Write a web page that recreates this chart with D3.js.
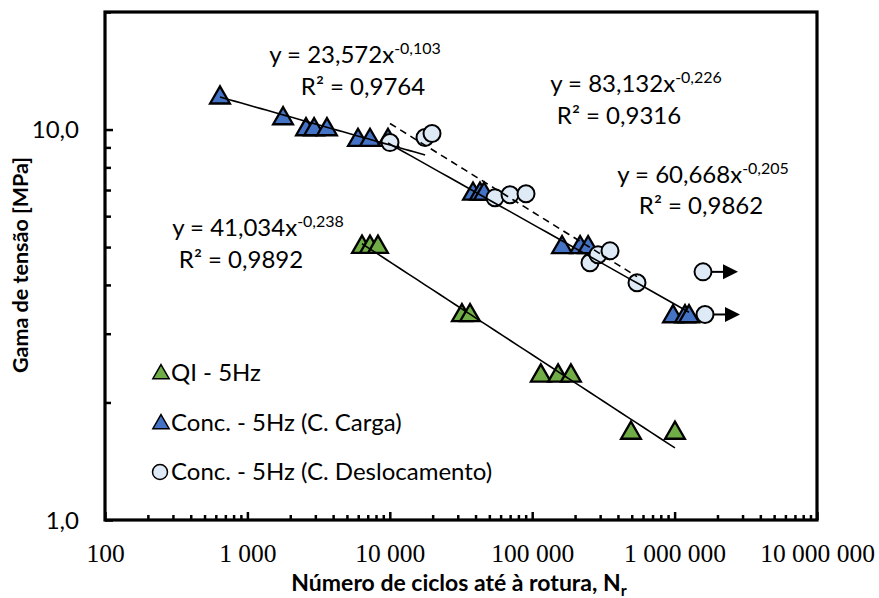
<!DOCTYPE html>
<html><head><meta charset="utf-8">
<script src="https://cdn.jsdelivr.net/npm/d3@7"></script>
<style>
html,body{margin:0;padding:0;background:#fff;}
svg{display:block;}
</style></head>
<body>
<svg id="chart" width="879" height="598"></svg>
<script>
// ---- Data ----
const qiN = [6380, 7260, 8260, 32100, 36600, 115000, 152000, 187000, 494000, 1006000];
const qiS = [5.0, 5.0, 5.0, 3.34, 3.34, 2.34, 2.34, 2.34, 1.67, 1.67];

const cargaN = [642, 1780, 2580, 2940, 3620, 5980, 7260, 9710, 38400, 43000, 45900, 162000, 217000, 247000, 975000, 1183000, 1262000];
const cargaS = [12.06, 10.67, 10.0, 10.0, 10.0, 9.39, 9.39, 9.39, 6.84, 6.84, 6.84, 4.99, 4.99, 4.99, 3.32, 3.32, 3.32];

const deslocN = [10030, 17670, 19790, 54800, 69850, 90480, 254600, 289900, 351900, 544500, 1583000, 1635000];
const deslocS = [9.26, 9.54, 9.77, 6.69, 6.81, 6.85, 4.56, 4.78, 4.89, 4.05, 4.32, 3.36];
const deslocRunout = [false, false, false, false, false, false, false, false, false, false, true, true];

// trendlines: coefficient, exponent, N range
const trendA = [23.572, 83.132, 60.668, 41.034];
const trendB = [-0.103, -0.226, -0.205, -0.238];
const trendFrom = [642, 10030, 9710, 6380];
const trendTo = [17700, 544500, 1262000, 1006000];
const trendDashed = [false, true, false, false];
const trendEq = ["y = 23,572x", "y = 83,132x", "y = 60,668x", "y = 41,034x"];
const trendExp = ["-0,103", "-0,226", "-0,205", "-0,238"];
const trendR2 = ["R² = 0,9764", "R² = 0,9316", "R² = 0,9862", "R² = 0,9892"];

const xTickValues = [100, 1000, 10000, 100000, 1000000, 10000000];
const xTickLabels = ["100", "1 000", "10 000", "100 000", "1 000 000", "10 000 000"];
const yTickValues = [1, 10];
const yTickLabels = ["1,0", "10,0"];

const legendLabels = ["QI - 5Hz", "Conc. - 5Hz (C. Carga)", "Conc. - 5Hz (C. Deslocamento)"];

// ---- Layout ----
const L = 105, R = 817, T = 12, B = 520;
const svg = d3.select("#chart");
const x = d3.scaleLog().domain([100, 1e7]).range([L, R]);
const y = d3.scaleLog().domain([1, 20]).range([B, T]);

const SANS = "Lato, 'Open Sans', sans-serif";
const SERIF = "'Liberation Serif', 'Times New Roman', serif";
const GREEN = "#70AD47", BLUE = "#4472C4", LIGHT = "#DEEBF7";

// minor ticks
const xMinor = [];
for (let e = 2; e < 7; e++) for (let k = 2; k <= 9; k++) xMinor.push(k * Math.pow(10, e));
const yMinor = [2,3,4,5,6,7,8,9,20];

const gxMinor = svg.append("g").attr("transform", `translate(0,${B})`)
  .call(d3.axisBottom(x).tickValues(xMinor).tickSize(-5).tickFormat(""));
const gx = svg.append("g").attr("transform", `translate(0,${B})`)
  .call(d3.axisBottom(x).tickValues(xTickValues).tickSize(-8).tickFormat((d,i)=>xTickLabels[i]));
const gyMinor = svg.append("g").attr("transform", `translate(${L},0)`)
  .call(d3.axisLeft(y).tickValues(yMinor).tickSize(-6).tickFormat(""));
const gy = svg.append("g").attr("transform", `translate(${L},0)`)
  .call(d3.axisLeft(y).tickValues(yTickValues).tickSize(-8).tickPadding(26).tickFormat((d,i)=>yTickLabels[i]));

[gxMinor, gx, gyMinor, gy].forEach(g => {
  g.select(".domain").remove();
  g.selectAll(".tick line").attr("stroke", "#000").attr("stroke-width", 2.5);
});
gx.selectAll(".tick text").attr("y", 42).attr("dy", null)
  .style("font-family", SERIF).style("font-size", "25.5px").attr("fill", "#000");
gy.selectAll(".tick text").attr("dy", "0.34em")
  .style("font-family", SANS).style("font-size", "24px").attr("fill", "#000");

// frame
svg.append("rect").attr("x", L).attr("y", T).attr("width", R - L).attr("height", B - T)
  .attr("fill", "none").attr("stroke", "#000").attr("stroke-width", 3.2);

// axis titles
svg.append("text").attr("transform", `translate(28,265) rotate(-90)`)
  .attr("text-anchor", "middle").style("font-family", SANS).style("font-weight", "bold")
  .style("font-size", "21.5px").text("Gama de tensão [MPa]");
const xt = svg.append("text").attr("x", 459).attr("y", 591).attr("text-anchor", "middle")
  .style("font-family", SANS).style("font-weight", "bold").style("font-size", "23px");
xt.append("tspan").text("Número de ciclos até à rotura, N");
xt.append("tspan").attr("dy", 5).style("font-size", "16px").text("r");

// markers
const tri = d3.symbol().type(d3.symbolTriangle).size(170);
const plot = svg.append("g");

plot.selectAll("path.qi").data(qiN).join("path").attr("class", "qi")
  .attr("transform", (d,i)=>`translate(${x(d)},${y(qiS[i])})`)
  .attr("d", tri).attr("fill", GREEN).attr("stroke", "#000").attr("stroke-width", 2.3).attr("stroke-linejoin", "miter");

plot.selectAll("path.carga").data(cargaN).join("path").attr("class", "carga")
  .attr("transform", (d,i)=>`translate(${x(d)},${y(cargaS[i])})`)
  .attr("d", tri).attr("fill", BLUE).attr("stroke", "#000").attr("stroke-width", 2.3).attr("stroke-linejoin", "miter");

// run-out arrows
deslocN.forEach((d,i)=>{
  if (!deslocRunout[i]) return;
  const cx = x(d), cy = y(deslocS[i]);
  plot.append("line").attr("x1", cx).attr("x2", cx + 22).attr("y1", cy).attr("y2", cy)
    .attr("stroke", "#000").attr("stroke-width", 2);
  plot.append("path").attr("d", `M${cx+20},${cy-7.5}L${cx+35},${cy}L${cx+20},${cy+7.5}Z`).attr("fill", "#000");
});

plot.selectAll("circle.desloc").data(deslocN).join("circle").attr("class", "desloc")
  .attr("cx", d=>x(d)).attr("cy", (d,i)=>y(deslocS[i])).attr("r", 8.5)
  .attr("fill", LIGHT).attr("stroke", "#000").attr("stroke-width", 2);

// trendlines
trendA.forEach((a,i)=>{
  const pts = d3.range(0, 41).map(k => {
    const lx = Math.log10(trendFrom[i]) + (Math.log10(trendTo[i]) - Math.log10(trendFrom[i])) * k / 40;
    const n = Math.pow(10, lx);
    return [x(n), y(a * Math.pow(n, trendB[i]))];
  });
  plot.append("path").attr("d", d3.line()(pts)).attr("fill", "none").attr("stroke", "#000")
    .attr("stroke-width", 1.6).attr("stroke-dasharray", trendDashed[i] ? "7,5" : null);
});

// trendline labels
const eqPos = [[355, 63], [636, 92], [703, 183], [258, 236]];
const r2Pos = [[363, 95], [619, 124], [701, 214], [241, 268]];
trendEq.forEach((t,i)=>{
  const tx = svg.append("text").attr("x", eqPos[i][0]).attr("y", eqPos[i][1]).attr("text-anchor", "middle")
    .style("font-family", SANS).style("font-size", "24px");
  tx.append("tspan").text(t);
  tx.append("tspan").attr("dy", -9).style("font-size", "16px").text(trendExp[i]);
  svg.append("text").attr("x", r2Pos[i][0]).attr("y", r2Pos[i][1]).attr("text-anchor", "middle")
    .style("font-family", SANS).style("font-size", "24px").text(trendR2[i]);
});

// legend
const legY = [373, 423, 472];
const lg = svg.append("g");
const triL = d3.symbol().type(d3.symbolTriangle).size(115);
lg.append("path").attr("transform", `translate(161,${legY[0]+1})`).attr("d", triL)
  .attr("fill", GREEN).attr("stroke", "#000").attr("stroke-width", 1.5);
lg.append("path").attr("transform", `translate(161,${legY[1]+1})`).attr("d", triL)
  .attr("fill", BLUE).attr("stroke", "#000").attr("stroke-width", 1.5);
lg.append("circle").attr("cx", 160).attr("cy", legY[2]).attr("r", 7.5)
  .attr("fill", LIGHT).attr("stroke", "#000").attr("stroke-width", 1.5);
legendLabels.forEach((t,i)=>{
  lg.append("text").attr("x", 171).attr("y", legY[i] + 8).style("font-family", SANS)
    .style("font-size", "24px").text(t);
});
</script>
</body></html>
